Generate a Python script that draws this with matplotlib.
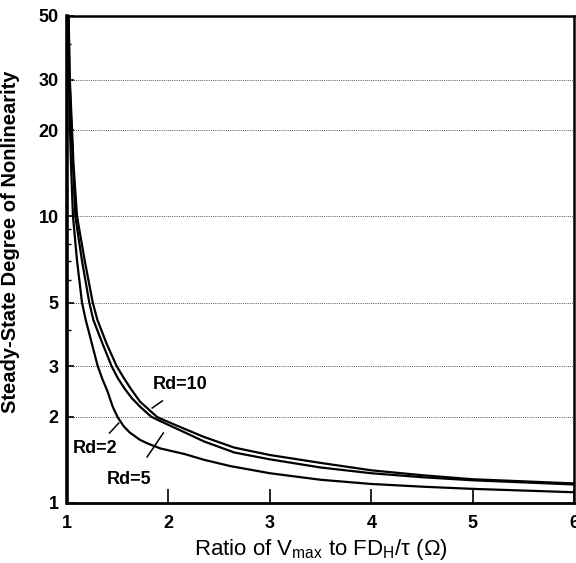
import matplotlib
matplotlib.use("Agg")
import matplotlib.pyplot as plt
from matplotlib.ticker import FixedLocator, NullFormatter, LogLocator

plt.rcParams["font.family"] = ["Liberation Sans", "DejaVu Sans"]
plt.rcParams["mathtext.fontset"] = "custom"
plt.rcParams["mathtext.rm"] = "Liberation Sans"

# Curves (x = ratio, y = degree of nonlinearity)
x_rd2 = [1.012, 1.02, 1.03, 1.04, 1.059, 1.099, 1.148, 1.185, 1.245, 1.303, 1.35,
         1.40, 1.45, 1.50, 1.56, 1.62, 1.72, 1.80, 1.92, 2.165, 2.35, 2.61, 3.0,
         3.5, 4.0, 4.5, 5.0, 5.5, 6.0]
y_rd2 = [50, 30, 20, 15, 10, 7, 5, 4.35, 3.6, 3.0, 2.70, 2.45, 2.17, 1.99, 1.85,
         1.76, 1.66, 1.61, 1.55, 1.48, 1.415, 1.345, 1.27, 1.205, 1.165, 1.14,
         1.12, 1.105, 1.09]

x_rd5 = [1.014, 1.025, 1.045, 1.06, 1.082, 1.148, 1.22, 1.26, 1.35, 1.44, 1.50,
         1.57, 1.64, 1.72, 1.83, 1.92, 2.165, 2.35, 2.65, 3.0, 3.5, 4.0, 4.5,
         5.0, 5.5, 6.0]
y_rd5 = [50, 30, 20, 15, 10, 7, 5, 4.35, 3.6, 3.0, 2.73, 2.5, 2.32, 2.168, 2.0,
         1.93, 1.76, 1.64, 1.50, 1.42, 1.33, 1.27, 1.23, 1.20, 1.18, 1.16]

x_rd10 = [1.016, 1.028, 1.05, 1.065, 1.099, 1.175, 1.254, 1.30, 1.39, 1.49, 1.56,
          1.63, 1.72, 1.885, 1.92, 2.165, 2.35, 2.65, 3.0, 3.5, 4.0, 4.5, 5.0,
          5.5, 6.0]
y_rd10 = [50, 30, 20, 15, 10, 7, 5, 4.35, 3.6, 3.0, 2.73, 2.5, 2.257, 2.0,
          1.97, 1.81, 1.70, 1.56, 1.47, 1.38, 1.30, 1.25, 1.21, 1.19, 1.17]

y_ticks = [1, 2, 3, 5, 10, 20, 30, 50]
y_grid = [2, 3, 5, 10, 20, 30]
x_ticks = [1, 2, 3, 4, 5, 6]

fig = plt.figure(figsize=(5.76, 5.63), dpi=100)
ax = fig.add_axes([0.1163, 0.1066, 0.8805, 0.865])

for xs, ys in [(x_rd2, y_rd2), (x_rd5, y_rd5), (x_rd10, y_rd10)]:
    ax.plot(xs, ys, color="black", linewidth=1.6, solid_joinstyle="round")

ax.set_yscale("log")
ax.set_xlim(1, 6)
ax.set_ylim(1, 50)

for g in y_grid:
    ax.axhline(g, color="#555555", linestyle=(0, (1, 1.2)), linewidth=0.7, zorder=0)

ax.yaxis.set_major_locator(FixedLocator(y_ticks))
ax.set_yticklabels([str(v) for v in y_ticks])
ax.yaxis.set_minor_locator(LogLocator(base=10, subs=[4, 6, 7, 8, 9]))
ax.yaxis.set_minor_formatter(NullFormatter())
ax.xaxis.set_major_locator(FixedLocator(x_ticks))
ax.set_xticklabels([str(v) for v in x_ticks])

ax.tick_params(axis="x", direction="in", length=10, width=1.2, pad=9,
               labelsize=13)
ax.tick_params(axis="y", which="major", direction="in", length=5, width=1.2,
               pad=6, labelsize=13)
ax.tick_params(axis="y", which="minor", direction="in", length=3, width=1.0)
for lab in ax.get_xticklabels() + ax.get_yticklabels():
    lab.set_fontweight("bold")

ax.spines["left"].set_linewidth(2.6)
ax.spines["bottom"].set_linewidth(2.0)
ax.spines["top"].set_linewidth(1.8)
ax.spines["right"].set_linewidth(1.8)

ax.set_ylabel("Steady-State Degree of Nonlinearity", fontsize=14.5,
              fontweight="bold")
ax.yaxis.set_label_coords(-0.092, 0.536)
ax.set_xlabel(r"Ratio of V$_{\rm max}$ to FD$_{\rm H}$/τ (Ω)", fontsize=16,
              labelpad=3)

# curve labels with leader lines
ax.text(1.85, 2.58, "Rd=10", fontsize=13, fontweight="bold", ha="left", va="center")
ax.plot([1.84, 1.94], [2.145, 2.27], color="black", linewidth=1.1)
ax.text(1.06, 1.555, "Rd=2", fontsize=13, fontweight="bold", ha="left", va="center")
ax.plot([1.42, 1.51], [1.755, 1.90], color="black", linewidth=1.1)
ax.text(1.395, 1.212, "Rd=5", fontsize=13, fontweight="bold", ha="left", va="center")
ax.plot([1.79, 1.95], [1.447, 1.755], color="black", linewidth=1.1)

fig.savefig("out.png", dpi=100)
